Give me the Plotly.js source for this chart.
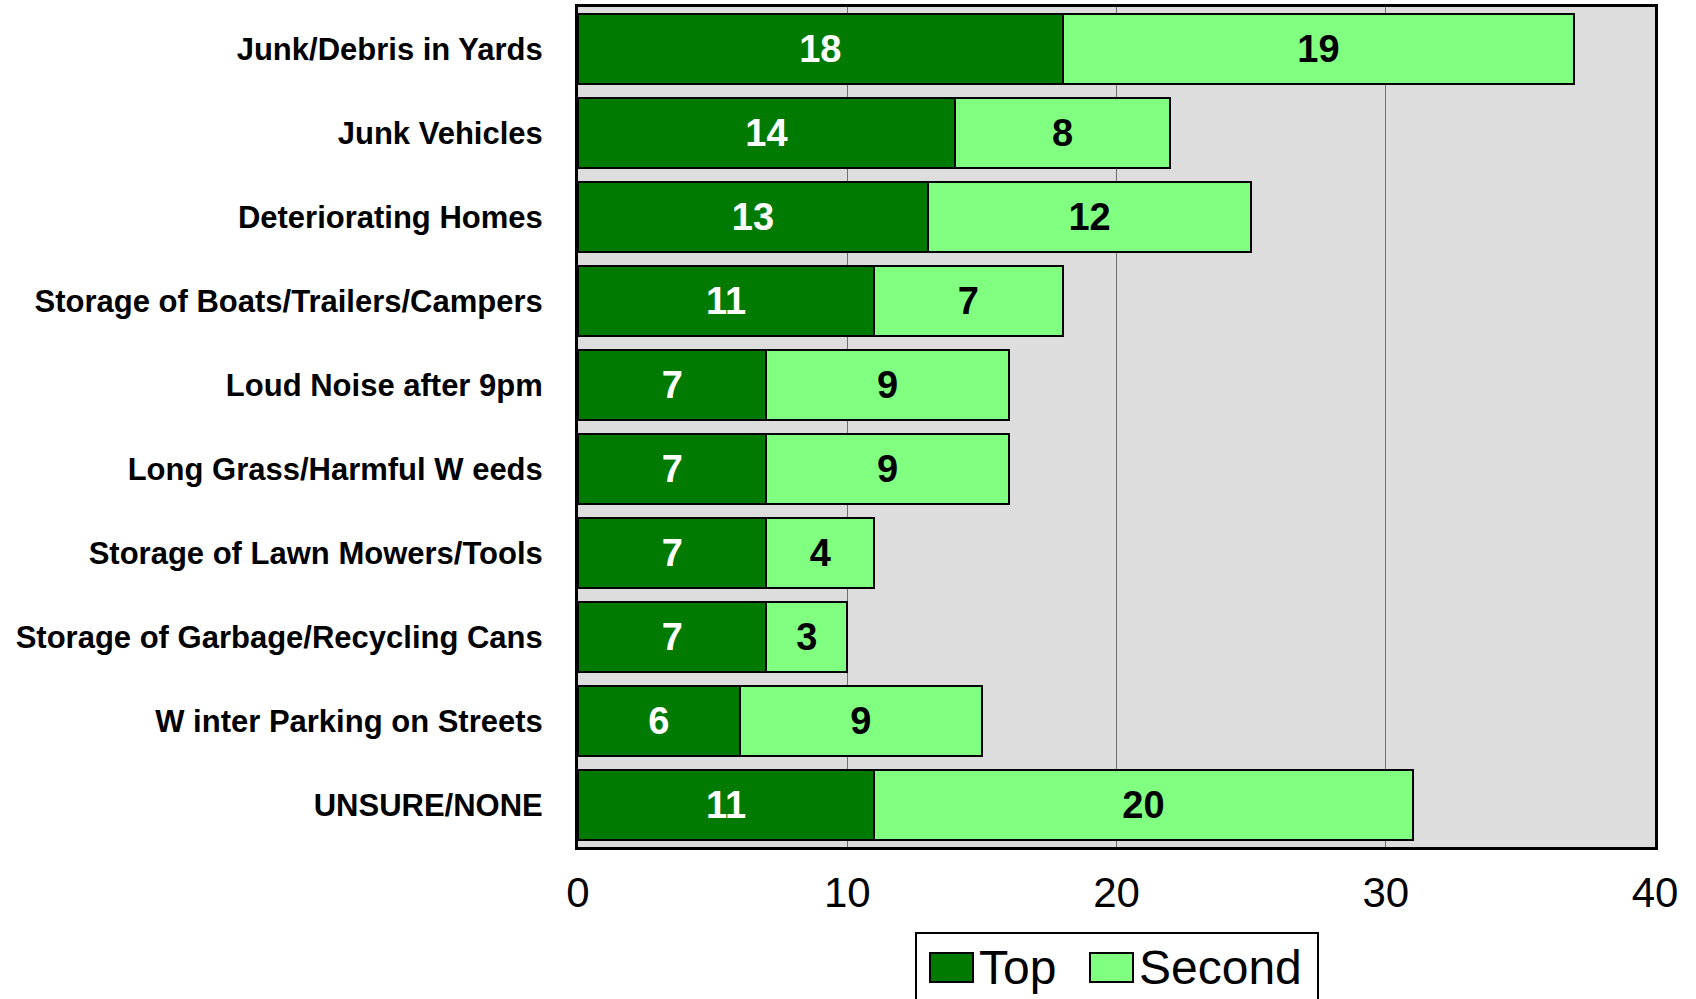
<!DOCTYPE html>
<html>
<head>
<meta charset="utf-8">
<script src="https://cdn.plot.ly/plotly-3.0.1.min.js"></script>
<style>html,body{margin:0;padding:0;background:#fff;}#chart{width:1696px;height:999px;}</style>
</head>
<body>
<div id="chart"></div>
<script>
const categories = [
  "Junk/Debris in Yards",
  "Junk Vehicles",
  "Deteriorating Homes",
  "Storage of Boats/Trailers/Campers",
  "Loud Noise after 9pm",
  "Long Grass/Harmful W eeds",
  "Storage of Lawn Mowers/Tools",
  "Storage of Garbage/Recycling Cans",
  "W inter Parking on Streets",
  "UNSURE/NONE"
];
const topValues = [18, 14, 13, 11, 7, 7, 7, 7, 6, 11];
const secondValues = [19, 8, 12, 7, 9, 9, 4, 3, 9, 20];
const xTicks = [0, 10, 20, 30, 40];
const seriesNames = ["Top", "Second"];
const seriesColors = ["#007A00", "#80FF80"];

const FONT = "Liberation Sans, Arial, Helvetica, sans-serif";

const traces = [
  {
    type: "bar", orientation: "h", name: seriesNames[0],
    y: categories, x: topValues,
    text: topValues.map(String), textposition: "inside", insidetextanchor: "middle",
    textfont: {family: FONT, size: 38, color: "#ffffff", weight: "bold"},
    marker: {color: seriesColors[0], line: {color: "#000000", width: 2}},
    hoverinfo: "skip", cliponaxis: false
  },
  {
    type: "bar", orientation: "h", name: seriesNames[1],
    y: categories, x: secondValues,
    text: secondValues.map(String), textposition: "inside", insidetextanchor: "middle",
    textfont: {family: FONT, size: 38, color: "#000000", weight: "bold"},
    marker: {color: seriesColors[1], line: {color: "#000000", width: 2}},
    hoverinfo: "skip", cliponaxis: false
  }
];

// plot area in pixels: x 578..1655, y 7..847
const PL = 578, PR = 1655, PT = 7, PB = 847;
const px = v => (v - PL) / (PR - PL);
const py = v => (PB - v) / (PB - PT);

// manual legend (large swatches like the original)
const shapes = [
  {type: "rect", xref: "paper", yref: "paper", x0: px(916), x1: px(1318), y0: py(1010), y1: py(933),
   line: {color: "#000", width: 2}, fillcolor: "#fff", layer: "above"},
  {type: "rect", xref: "paper", yref: "paper", x0: px(930), x1: px(973), y0: py(982), y1: py(953),
   line: {color: "#000", width: 2}, fillcolor: seriesColors[0], layer: "above"},
  {type: "rect", xref: "paper", yref: "paper", x0: px(1090), x1: px(1133), y0: py(982), y1: py(953),
   line: {color: "#000", width: 2}, fillcolor: seriesColors[1], layer: "above"}
];
const annotations = [
  {xref: "paper", yref: "paper", x: px(977), y: py(967), xanchor: "left", yanchor: "middle",
   text: seriesNames[0], showarrow: false, font: {family: FONT, size: 48, color: "#000"}},
  {xref: "paper", yref: "paper", x: px(1137), y: py(967), xanchor: "left", yanchor: "middle",
   text: seriesNames[1], showarrow: false, font: {family: FONT, size: 48, color: "#000"}}
];

const layout = {
  width: 1696, height: 999,
  margin: {l: PL, r: 1696 - PR, t: PT, b: 999 - PB, autoexpand: false},
  paper_bgcolor: "#ffffff",
  plot_bgcolor: "#DDDDDD",
  barmode: "stack",
  bargap: 0.17,
  font: {family: FONT, color: "#000000"},
  xaxis: {
    range: [0, 40], tickvals: xTicks, ticktext: xTicks.map(String),
    tickfont: {family: FONT, size: 42, color: "#000"},
    showgrid: true, gridcolor: "#707070", gridwidth: 1,
    zeroline: false, showline: true, linecolor: "#000", linewidth: 3, mirror: true,
    ticks: "", ticklabelstandoff: 7, fixedrange: true
  },
  yaxis: {
    autorange: "reversed", type: "category",
    tickfont: {family: FONT, size: 31, color: "#000", weight: "bold"},
    showgrid: false, zeroline: false,
    showline: true, linecolor: "#000", linewidth: 3, mirror: true,
    ticks: "", ticklabelstandoff: 26, fixedrange: true
  },
  showlegend: false,
  shapes: shapes,
  annotations: annotations
};

Plotly.newPlot("chart", traces, layout, {displayModeBar: false, staticPlot: true});
</script>
</body>
</html>
